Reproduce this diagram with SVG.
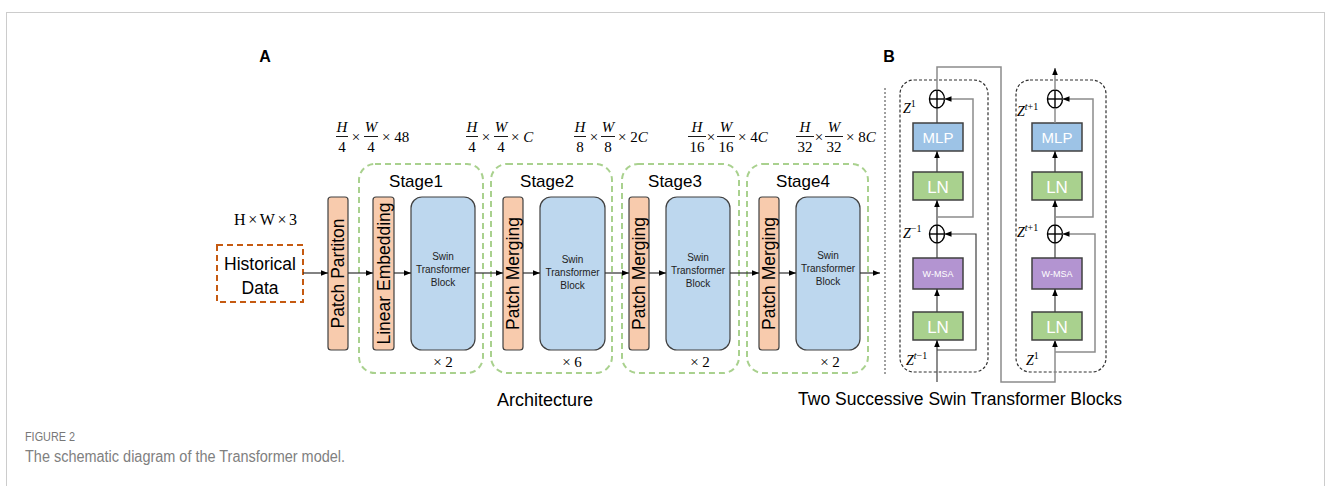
<svg xmlns="http://www.w3.org/2000/svg" width="1331" height="486" viewBox="0 0 1331 486">
<defs>
<marker id="ah" viewBox="0 0 10 10" refX="10" refY="5" markerWidth="7" markerHeight="7" orient="auto" markerUnits="userSpaceOnUse"><path d="M0,1 L10,5 L0,9 z" fill="#000"/></marker>
</defs>
<style>
.sans{font-family:"Liberation Sans",Arial,sans-serif}
.serif{font-family:"Liberation Serif","Times New Roman",serif}
.it{font-style:italic}
.patch{fill:#f8cbad;stroke:#404040;stroke-width:1.2}
.swin{fill:#bdd7ee;stroke:#404040;stroke-width:1.2}
.stage{fill:none;stroke:#a9d18e;stroke-width:2;stroke-dasharray:6 4}
.vt{font-size:17.5px;fill:#000}
.st{font-size:10px;fill:#222}
.arr{stroke:#303030;stroke-width:1.2;fill:none}
.gline{stroke:#8c8c8c;stroke-width:1.5;fill:none}
.dline{stroke:#404040;stroke-width:1.2;fill:none}
.frac{font-size:15px}
.mlp{fill:#9dc3e6;stroke:#404040;stroke-width:1.5}
.ln{fill:#a9d18e;stroke:#404040;stroke-width:1.5}
.msa{fill:#b394d1;stroke:#404040;stroke-width:1.5}
.wt{fill:#fff}
.blk{fill:none;stroke:#303030;stroke-width:1.2;stroke-dasharray:3 2}
.plus{fill:none;stroke:#000;stroke-width:1.4}
.z{font-size:14px}
.sup{font-size:10px}
</style>
<rect x="6.5" y="12.5" width="1318" height="500" fill="#fff" stroke="#cccccc" stroke-width="1"/>

<text x="265" y="62" class="sans" font-size="16" font-weight="bold" text-anchor="middle">A</text>
<text x="889" y="62" class="sans" font-size="16" font-weight="bold" text-anchor="middle">B</text>

<g id="dims" class="serif frac">
  <text x="342" y="132" class="it" text-anchor="middle">H</text><line x1="336" y1="136.5" x2="348" y2="136.5" stroke="#000" stroke-width="0.9"/><text x="342" y="152" text-anchor="middle">4</text>
  <text x="356" y="142" text-anchor="middle">×</text>
  <text x="371" y="132" class="it" text-anchor="middle">W</text><line x1="364" y1="136.5" x2="378" y2="136.5" stroke="#000" stroke-width="0.9"/><text x="371" y="152" text-anchor="middle">4</text>
  <text x="382" y="142">× 48</text>

  <text x="472" y="132" class="it" text-anchor="middle">H</text><line x1="466" y1="136.5" x2="478" y2="136.5" stroke="#000" stroke-width="0.9"/><text x="472" y="152" text-anchor="middle">4</text>
  <text x="486" y="142" text-anchor="middle">×</text>
  <text x="501" y="132" class="it" text-anchor="middle">W</text><line x1="494" y1="136.5" x2="508" y2="136.5" stroke="#000" stroke-width="0.9"/><text x="501" y="152" text-anchor="middle">4</text>
  <text x="511" y="142">× <tspan class="it">C</tspan></text>

  <text x="580" y="132" class="it" text-anchor="middle">H</text><line x1="574" y1="136.5" x2="586" y2="136.5" stroke="#000" stroke-width="0.9"/><text x="580" y="152" text-anchor="middle">8</text>
  <text x="594" y="142" text-anchor="middle">×</text>
  <text x="608" y="132" class="it" text-anchor="middle">W</text><line x1="601" y1="136.5" x2="615" y2="136.5" stroke="#000" stroke-width="0.9"/><text x="608" y="152" text-anchor="middle">8</text>
  <text x="618" y="142">× 2<tspan class="it">C</tspan></text>

  <text x="697" y="132" class="it" text-anchor="middle">H</text><line x1="688" y1="136.5" x2="706" y2="136.5" stroke="#000" stroke-width="0.9"/><text x="697" y="152" text-anchor="middle">16</text>
  <text x="711" y="142" text-anchor="middle">×</text>
  <text x="726" y="132" class="it" text-anchor="middle">W</text><line x1="717" y1="136.5" x2="735" y2="136.5" stroke="#000" stroke-width="0.9"/><text x="726" y="152" text-anchor="middle">16</text>
  <text x="738" y="142">× 4<tspan class="it">C</tspan></text>

  <text x="805" y="132" class="it" text-anchor="middle">H</text><line x1="796" y1="136.5" x2="814" y2="136.5" stroke="#000" stroke-width="0.9"/><text x="805" y="152" text-anchor="middle">32</text>
  <text x="819" y="142" text-anchor="middle">×</text>
  <text x="834" y="132" class="it" text-anchor="middle">W</text><line x1="825" y1="136.5" x2="843" y2="136.5" stroke="#000" stroke-width="0.9"/><text x="834" y="152" text-anchor="middle">32</text>
  <text x="846" y="142">× 8<tspan class="it">C</tspan></text>
</g>

<text x="234" y="225" class="serif" font-size="16" textLength="63" lengthAdjust="spacing">H×W×3</text>

<g id="historical">
  <rect x="217" y="245" width="86" height="57" fill="#fff" stroke="#c55a11" stroke-width="2" stroke-dasharray="6 4"/>
  <text x="260" y="270" class="sans" font-size="17.5" text-anchor="middle">Historical</text>
  <text x="260" y="294" class="sans" font-size="17.5" text-anchor="middle">Data</text>
</g>

<g id="patch-partition">
  <rect x="328" y="197" width="20" height="153" rx="3" class="patch"/>
  <text transform="translate(338 273.5) rotate(-90)" class="sans vt" text-anchor="middle" dy="0.36em">Patch Partiton</text>
</g>

<g id="stage1">
  <rect x="359" y="164" width="124" height="209" rx="16" class="stage"/>
  <text x="416" y="187" class="sans" font-size="17" text-anchor="middle">Stage1</text>
  <g id="linear-embedding">
    <rect x="373" y="197" width="21" height="153" rx="3" class="patch"/>
    <text transform="translate(383.5 273.5) rotate(-90)" class="sans vt" text-anchor="middle" dy="0.36em">Linear Embedding</text>
  </g>
  <g id="swin1">
    <rect x="411" y="197" width="64" height="153" rx="11" class="swin"/>
    <text x="443" y="260" class="sans st" text-anchor="middle">Swin</text>
    <text x="443" y="273" class="sans st" text-anchor="middle">Transformer</text>
    <text x="443" y="286" class="sans st" text-anchor="middle">Block</text>
  </g>
  <text x="443" y="367" class="serif" font-size="15" text-anchor="middle">× 2</text>
</g>

<g id="stage2">
  <rect x="491" y="164" width="121" height="209" rx="16" class="stage"/>
  <text x="547" y="187" class="sans" font-size="17" text-anchor="middle">Stage2</text>
  <g id="merge2">
    <rect x="503" y="197" width="20" height="153" rx="3" class="patch"/>
    <text transform="translate(513 273.5) rotate(-90)" class="sans vt" text-anchor="middle" dy="0.36em">Patch Merging</text>
  </g>
  <g id="swin2">
    <rect x="540" y="197" width="65" height="153" rx="11" class="swin"/>
    <text x="572.5" y="263" class="sans st" text-anchor="middle">Swin</text>
    <text x="572.5" y="276" class="sans st" text-anchor="middle">Transformer</text>
    <text x="572.5" y="289" class="sans st" text-anchor="middle">Block</text>
  </g>
  <text x="572" y="367" class="serif" font-size="15" text-anchor="middle">× 6</text>
</g>

<g id="stage3">
  <rect x="622" y="164" width="117" height="209" rx="16" class="stage"/>
  <text x="675" y="187" class="sans" font-size="17" text-anchor="middle">Stage3</text>
  <g id="merge3">
    <rect x="629" y="197" width="20" height="153" rx="3" class="patch"/>
    <text transform="translate(639 273.5) rotate(-90)" class="sans vt" text-anchor="middle" dy="0.36em">Patch Merging</text>
  </g>
  <g id="swin3">
    <rect x="666" y="197" width="64" height="153" rx="11" class="swin"/>
    <text x="698" y="261" class="sans st" text-anchor="middle">Swin</text>
    <text x="698" y="274" class="sans st" text-anchor="middle">Transformer</text>
    <text x="698" y="287" class="sans st" text-anchor="middle">Block</text>
  </g>
  <text x="700" y="367" class="serif" font-size="15" text-anchor="middle">× 2</text>
</g>

<g id="stage4">
  <rect x="747" y="164" width="121" height="209" rx="16" class="stage"/>
  <text x="803" y="187" class="sans" font-size="17" text-anchor="middle">Stage4</text>
  <g id="merge4">
    <rect x="759" y="197" width="20" height="153" rx="3" class="patch"/>
    <text transform="translate(769 273.5) rotate(-90)" class="sans vt" text-anchor="middle" dy="0.36em">Patch Merging</text>
  </g>
  <g id="swin4">
    <rect x="796" y="197" width="64" height="153" rx="11" class="swin"/>
    <text x="828" y="259" class="sans st" text-anchor="middle">Swin</text>
    <text x="828" y="272" class="sans st" text-anchor="middle">Transformer</text>
    <text x="828" y="285" class="sans st" text-anchor="middle">Block</text>
  </g>
  <text x="830" y="367" class="serif" font-size="15" text-anchor="middle">× 2</text>
</g>

<g id="connectors-a">
  <line x1="303" y1="273" x2="328" y2="273" class="arr" marker-end="url(#ah)"/>
  <line x1="348" y1="273" x2="373" y2="273" class="arr" marker-end="url(#ah)"/>
  <line x1="394" y1="273" x2="411" y2="273" class="arr" marker-end="url(#ah)"/>
  <line x1="475" y1="273" x2="503" y2="273" class="arr" marker-end="url(#ah)"/>
  <line x1="523" y1="273" x2="540" y2="273" class="arr" marker-end="url(#ah)"/>
  <line x1="605" y1="273" x2="629" y2="273" class="arr" marker-end="url(#ah)"/>
  <line x1="649" y1="273" x2="666" y2="273" class="arr" marker-end="url(#ah)"/>
  <line x1="730" y1="273" x2="759" y2="273" class="arr" marker-end="url(#ah)"/>
  <line x1="779" y1="273" x2="796" y2="273" class="arr" marker-end="url(#ah)"/>
  <line x1="860" y1="273" x2="880" y2="273" class="arr" marker-end="url(#ah)"/>
</g>

<text x="545" y="406" class="sans" font-size="18" text-anchor="middle">Architecture</text>

<line x1="885" y1="88" x2="885" y2="375" stroke="#404040" stroke-width="1" stroke-dasharray="2 2"/>

<g id="block1">
  <rect x="900" y="80" width="88" height="292" rx="14" class="blk"/>
  <g id="b1-plus-top"><ellipse cx="937" cy="99" rx="7.5" ry="9" class="plus"/><line x1="929.5" y1="99" x2="944.5" y2="99" class="plus"/><line x1="937" y1="90" x2="937" y2="108" class="plus"/></g>
  <g id="b1-mlp"><rect x="913" y="123" width="50" height="28" class="mlp"/><text x="938" y="143" class="sans wt" font-size="15" text-anchor="middle">MLP</text></g>
  <g id="b1-ln2"><rect x="913" y="172" width="50" height="28" class="ln"/><text x="938" y="192.5" class="sans wt" font-size="17" text-anchor="middle">LN</text></g>
  <g id="b1-plus-bot"><ellipse cx="937" cy="234" rx="7.5" ry="9" class="plus"/><line x1="929.5" y1="234" x2="944.5" y2="234" class="plus"/><line x1="937" y1="225" x2="937" y2="243" class="plus"/></g>
  <g id="b1-msa"><rect x="913" y="258" width="50" height="31" class="msa"/><text x="938" y="277" class="sans wt" font-size="9" text-anchor="middle">W-MSA</text></g>
  <g id="b1-ln1"><rect x="913" y="312" width="50" height="28" class="ln"/><text x="938" y="332.5" class="sans wt" font-size="17" text-anchor="middle">LN</text></g>
  <text x="903" y="113" class="serif it z">Z<tspan dy="-6" class="sup" font-style="normal">1</tspan></text>
  <text x="903" y="238" class="serif it z">Z<tspan dy="-6" class="sup" font-style="normal">−1</tspan></text>
  <text x="906" y="365" class="serif it z">Z<tspan dy="-6" class="sup">t</tspan><tspan class="sup" font-style="normal">−1</tspan></text>
</g>

<g id="block2">
  <rect x="1016" y="80" width="90" height="292" rx="14" class="blk"/>
  <g id="b2-plus-top"><ellipse cx="1055" cy="99" rx="7.5" ry="9" class="plus"/><line x1="1047.5" y1="99" x2="1062.5" y2="99" class="plus"/><line x1="1055" y1="90" x2="1055" y2="108" class="plus"/></g>
  <g id="b2-mlp"><rect x="1032" y="123" width="50" height="28" class="mlp"/><text x="1057" y="143" class="sans wt" font-size="15" text-anchor="middle">MLP</text></g>
  <g id="b2-ln2"><rect x="1032" y="172" width="50" height="28" class="ln"/><text x="1057" y="192.5" class="sans wt" font-size="17" text-anchor="middle">LN</text></g>
  <g id="b2-plus-bot"><ellipse cx="1055" cy="234" rx="7.5" ry="9" class="plus"/><line x1="1047.5" y1="234" x2="1062.5" y2="234" class="plus"/><line x1="1055" y1="225" x2="1055" y2="243" class="plus"/></g>
  <g id="b2-msa"><rect x="1032" y="258" width="50" height="31" class="msa"/><text x="1057" y="277" class="sans wt" font-size="9" text-anchor="middle">W-MSA</text></g>
  <g id="b2-ln1"><rect x="1032" y="312" width="50" height="28" class="ln"/><text x="1057" y="332.5" class="sans wt" font-size="17" text-anchor="middle">LN</text></g>
  <text x="1017" y="116" class="serif it z">Z<tspan dy="-6" class="sup">t</tspan><tspan class="sup" font-style="normal">+1</tspan></text>
  <text x="1017" y="237" class="serif it z">Z<tspan dy="-6" class="sup">t</tspan><tspan class="sup" font-style="normal">+1</tspan></text>
  <text x="1026" y="365" class="serif it z">Z<tspan dy="-6" class="sup" font-style="normal">1</tspan></text>
</g>

<g id="connectors-b">
  <line x1="937" y1="382" x2="937" y2="340" class="dline" marker-end="url(#ah)"/>
  <line x1="937" y1="312" x2="937" y2="289" class="dline" marker-end="url(#ah)"/>
  <line x1="937" y1="258" x2="937" y2="243" class="dline"/>
  <line x1="937" y1="225" x2="937" y2="200" class="dline" marker-end="url(#ah)"/>
  <line x1="937" y1="172" x2="937" y2="151" class="dline" marker-end="url(#ah)"/>
  <line x1="937" y1="123" x2="937" y2="108" class="dline"/>
  <polyline points="937,350 976,350 976,234 944.5,234" class="dline" marker-end="url(#ah)"/>
  <polyline points="937,217 973,217 973,99 944.5,99" class="gline" marker-end="url(#ah)"/>
  <polyline points="937,90 937,67 1001,67 1001,382 1055,382 1055,340" class="gline" marker-end="url(#ah)"/>
  <line x1="1055" y1="312" x2="1055" y2="289" class="dline" marker-end="url(#ah)"/>
  <line x1="1055" y1="258" x2="1055" y2="243" class="dline"/>
  <line x1="1055" y1="225" x2="1055" y2="200" class="dline" marker-end="url(#ah)"/>
  <line x1="1055" y1="172" x2="1055" y2="151" class="dline" marker-end="url(#ah)"/>
  <line x1="1055" y1="123" x2="1055" y2="108" class="gline"/>
  <polyline points="1055,352 1095,352 1095,234 1062.5,234" class="gline" marker-end="url(#ah)"/>
  <polyline points="1055,217 1093,217 1093,99 1062.5,99" class="gline" marker-end="url(#ah)"/>
  <line x1="1055" y1="90" x2="1055" y2="68" class="gline" marker-end="url(#ah)"/>
</g>

<text x="960" y="405" class="sans" font-size="17.5" text-anchor="middle">Two Successive Swin Transformer Blocks</text>

<text x="25" y="441" class="sans" font-size="12.5" fill="#777777" textLength="50" lengthAdjust="spacingAndGlyphs">FIGURE 2</text>
<text x="25" y="462" class="sans" font-size="16" fill="#808080" textLength="320" lengthAdjust="spacingAndGlyphs">The schematic diagram of the Transformer model.</text>
</svg>
